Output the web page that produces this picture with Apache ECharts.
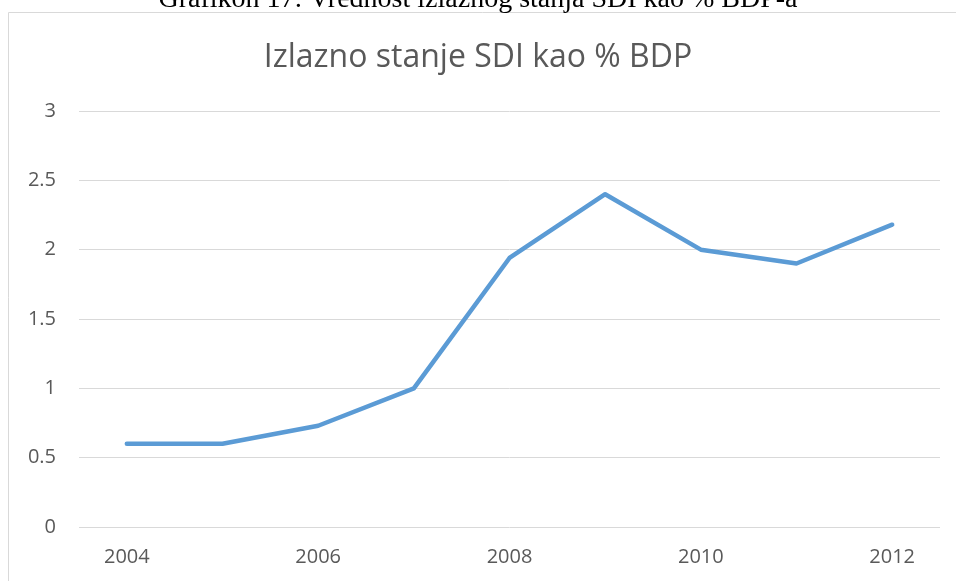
<!DOCTYPE html>
<html>
<head>
<meta charset="utf-8">
<script src="https://cdn.jsdelivr.net/npm/echarts@6/dist/echarts.min.js"></script>
<style>
  html, body { margin: 0; padding: 0; background: #fff; }
  #chart { width: 956px; height: 581px; }
</style>
</head>
<body>
<div id="chart"></div>
<script>
(function () {
    'use strict';

    var years = ['2004', '2005', '2006', '2007', '2008', '2009', '2010', '2011', '2012'];
    var sdiShare = [0.6, 0.6, 0.73, 1.0, 1.94, 2.4, 2.0, 1.9, 2.18];

    var chart = echarts.init(document.getElementById('chart'));

    chart.setOption({
        animation: false,
        title: {
            text: 'Izlazno stanje SDI kao % BDP',
            left: 'center',
            top: 37,
            textStyle: {
                color: '#595959',
                fontFamily: 'Open Sans',
                fontWeight: 'normal',
                fontSize: 32
            }
        },
        graphic: [
            {
                type: 'rect',
                shape: { x: 8.5, y: 12.5, width: 1000, height: 1000 },
                style: { fill: 'none', stroke: '#d9d9d9', lineWidth: 1 },
                silent: true
            },
            {
                // caption of the source document, cut off by the crop
                type: 'text',
                left: 'center',
                top: -14,
                style: {
                    text: 'Grafikon 17: Vrednost izlaznog stanja SDI kao % BDP-a',
                    font: '28px "Liberation Serif"',
                    fill: '#000'
                },
                silent: true
            }
        ],
        grid: { left: 79, right: 16, top: 111, bottom: 54, containLabel: false },
        xAxis: {
            type: 'category',
            data: years,
            boundaryGap: true,
            axisLine: { show: false },
            axisTick: { show: false },
            axisLabel: {
                interval: 1,
                color: '#595959',
                fontFamily: 'Open Sans',
                fontSize: 20,
                margin: 20
            }
        },
        yAxis: {
            type: 'value',
            min: 0,
            max: 3,
            interval: 0.5,
            axisLine: { show: false },
            axisTick: { show: false },
            axisLabel: {
                color: '#595959',
                fontFamily: 'Open Sans',
                fontSize: 20,
                margin: 23
            },
            splitLine: { lineStyle: { color: '#d9d9d9', width: 1 } }
        },
        series: [{
            type: 'line',
            data: sdiShare,
            showSymbol: false,
            symbol: 'none',
            lineStyle: { color: '#5b9bd5', width: 4.5, cap: 'round', join: 'round' },
            itemStyle: { color: '#5b9bd5' }
        }]
    });
})();
</script>
</body>
</html>
